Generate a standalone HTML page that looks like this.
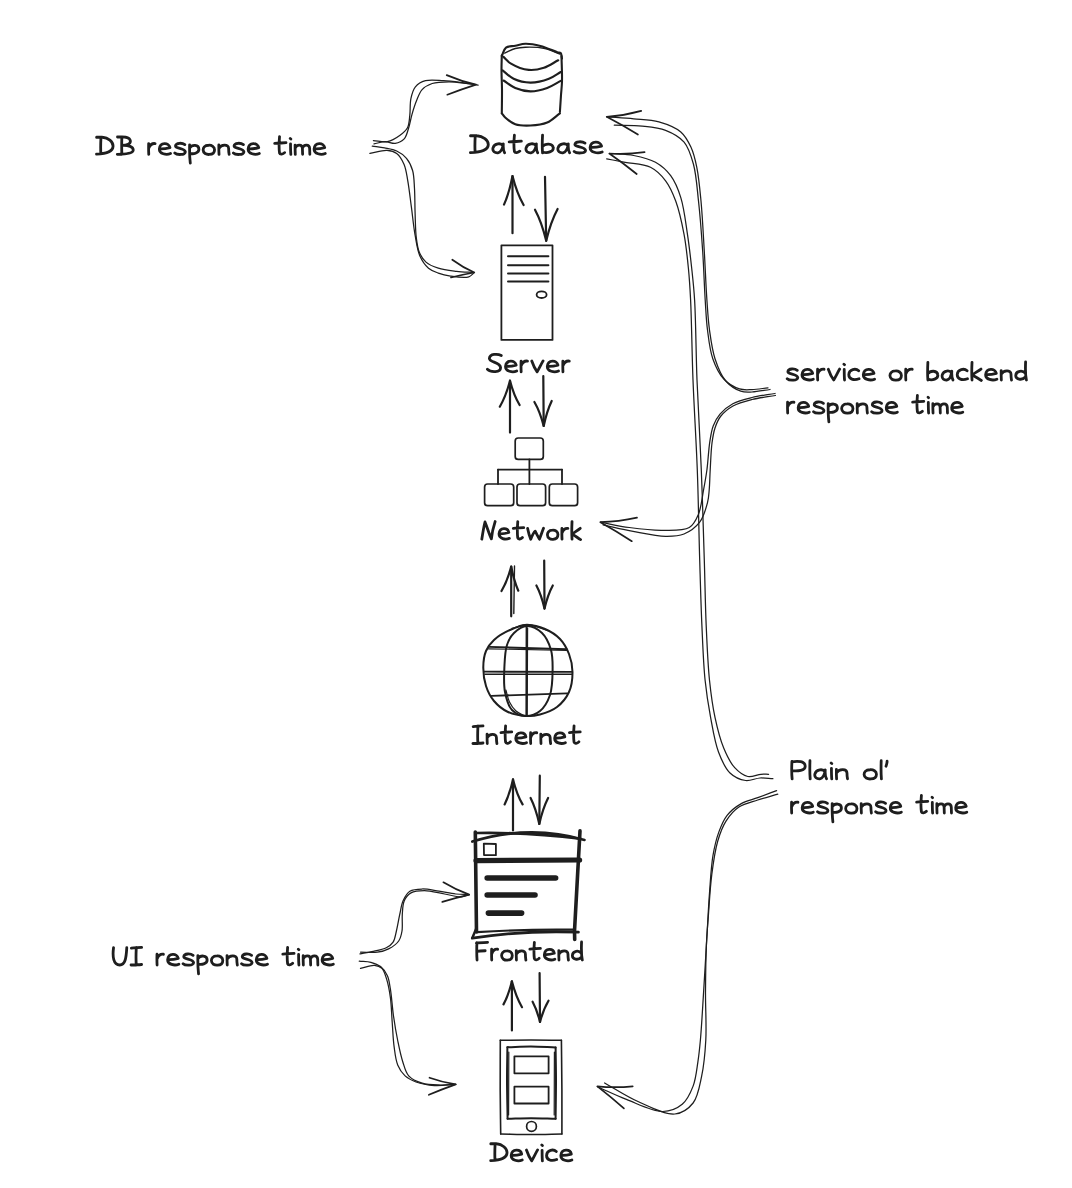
<!DOCTYPE html>
<html><head><meta charset="utf-8"><style>
html,body{margin:0;padding:0;background:#fff;width:1072px;height:1188px;overflow:hidden}
svg{display:block}
body{font-family:"Liberation Sans",sans-serif;color:#1e1e1e}
</style></head><body>
<svg width="1072" height="1188" viewBox="0 0 1072 1188">
<rect width="1072" height="1188" fill="#fff"/>
<g fill="none" stroke="#1e1e1e" stroke-linecap="round" stroke-linejoin="round">
<path d="M512.5 233.2 L512.5 176.0" stroke-width="2.20" />
<path d="M504.0 204.6 Q509.1 193.2 512.5 176.0 Q516.9 193.4 523.6 205.0" stroke-width="2.20" />
<path d="M545.0 176.8 L546.2 240.8" stroke-width="2.20" />
<path d="M535.0 209.7 Q541.7 222.1 546.2 240.8 Q550.8 221.7 557.6 209.0" stroke-width="2.20" />
<path d="M510.0 432.6 L510.0 380.7" stroke-width="2.20" />
<path d="M499.8 406.7 Q505.9 396.3 510.0 380.7 Q513.8 395.3 519.6 405.0" stroke-width="2.20" />
<path d="M543.3 376.0 L543.7 426.0" stroke-width="2.20" />
<path d="M534.4 402.0 Q540.0 411.6 543.7 426.0 Q546.9 411.0 551.7 401.0" stroke-width="2.20" />
<path d="M511.2 616.3 L511.2 566.5" stroke-width="2.20" />
<path d="M501.5 591.0 Q507.3 581.2 511.2 566.5 Q514.0 581.0 518.3 590.7" stroke-width="2.20" />
<path d="M544.2 560.5 L544.5 608.6" stroke-width="2.20" />
<path d="M536.4 585.5 Q541.3 594.7 544.5 608.6 Q547.8 594.7 552.8 585.5" stroke-width="2.20" />
<path d="M513.8 613.5 L514.5 566" stroke-width="1.40" />
<path d="M513.0 830.4 L513.0 779.4" stroke-width="2.20" />
<path d="M504.6 804.4 Q509.6 794.4 513.0 779.4 Q516.8 794.4 522.6 804.4" stroke-width="2.20" />
<path d="M539.8 775.7 L539.3 823.9" stroke-width="2.20" />
<path d="M530.6 798.0 Q535.8 808.4 539.3 823.9 Q542.8 808.4 548.1 798.0" stroke-width="2.20" />
<path d="M511.9 1030.4 L511.9 981.3" stroke-width="2.20" />
<path d="M503.5 1004.4 Q508.5 995.2 511.9 981.3 Q515.9 996.8 522.0 1007.2" stroke-width="2.20" />
<path d="M539.6 973.0 L540.0 1022.0" stroke-width="2.20" />
<path d="M532.6 1001.7 Q537.0 1009.8 540.0 1022.0 Q543.4 1009.2 548.5 1000.7" stroke-width="2.20" />
<path d="M501.80 56.00 C503.20 53.20 503.76 49.30 506.00 47.60 C508.25 45.89 512.14 46.42 515.30 45.80 C518.60 45.15 521.69 43.89 525.40 43.80 C529.92 43.69 535.40 44.70 540.50 46.00 C546.02 47.41 553.81 51.10 557.30 52.20 C558.85 52.69 559.92 52.29 560.70 53.10 C561.69 54.12 561.57 56.77 562.00 58.60" stroke-width="2.10"/>
<path d="M504.70 53.10 C508.23 51.57 511.74 49.48 515.30 48.50 C518.64 47.58 521.47 47.32 525.40 47.20 C530.85 47.03 538.99 47.23 545.00 48.50 C550.42 49.65 555.00 52.17 560.00 54.00" stroke-width="1.40"/>
<path d="M503.50 56.90 C506.00 59.13 507.73 61.66 511.00 63.60 C515.47 66.25 522.95 69.31 528.70 69.90 C533.89 70.43 539.04 69.36 543.90 67.80 C548.88 66.20 553.43 62.80 558.20 60.30" stroke-width="2.10"/>
<path d="M502.60 70.40 C506.27 73.20 509.29 76.79 513.60 78.80 C518.40 81.05 524.66 82.54 530.40 82.60 C536.41 82.66 543.56 80.83 548.90 78.80 C553.43 77.08 556.77 74.27 560.70 72.00" stroke-width="2.10"/>
<path d="M503.50 80.50 C507.43 83.00 510.95 86.19 515.30 88.00 C519.87 89.90 525.23 91.34 530.40 91.40 C535.84 91.46 542.03 89.84 547.20 88.00 C552.08 86.26 556.20 83.27 560.70 80.90" stroke-width="2.10"/>
<path d="M501.80 55.20 C501.70 60.13 501.49 64.70 501.50 70.00 C501.51 76.17 501.94 83.08 502.00 90.00 C502.06 97.47 501.87 105.53 501.80 113.30" stroke-width="2.10"/>
<path d="M561.50 56.00 C561.67 64.43 562.19 74.15 562.00 81.30 C561.86 86.57 561.33 90.19 561.00 95.00 C560.63 100.36 560.27 106.33 559.90 112.00" stroke-width="2.10"/>
<path d="M501.80 113.30 C502.93 114.70 503.62 116.06 505.20 117.50 C507.57 119.65 511.40 122.84 515.30 124.20 C519.66 125.72 525.25 125.73 530.40 125.50 C535.87 125.25 542.20 124.62 547.20 122.50 C551.99 120.47 555.67 116.37 559.90 113.30" stroke-width="2.10"/>
<rect x="501.4" y="245.3" width="51.1" height="94.6" rx="0.0" stroke-width="1.80"/>
<path d="M508.0 256.3 L548.4 256.3" stroke-width="2.00" />
<path d="M508.0 265.2 L548.4 265.2" stroke-width="2.00" />
<path d="M508.0 273.6 L548.4 273.6" stroke-width="2.00" />
<path d="M508.0 281.5 L548.4 281.5" stroke-width="2.00" />
<ellipse cx="541.6" cy="294.7" rx="5" ry="3.3" stroke-width="1.8"/>
<rect x="515.2" y="438.0" width="28.1" height="21.4" rx="3.0" stroke-width="1.70"/>
<path d="M529.4 459.4 L529.4 484.0" stroke-width="1.80" />
<path d="M498.0 469.6 L562.0 469.6" stroke-width="1.80" />
<path d="M498.0 469.6 L498.0 484.0" stroke-width="1.80" />
<path d="M562.0 469.6 L562.0 484.0" stroke-width="1.80" />
<rect x="484.6" y="484.0" width="29.1" height="21.7" rx="3.0" stroke-width="1.70"/>
<rect x="517.0" y="484.0" width="28.6" height="21.7" rx="3.0" stroke-width="1.70"/>
<rect x="549.3" y="484.0" width="28.3" height="21.7" rx="3.0" stroke-width="1.70"/>
<path d="M527.00 625.00 C532.89 624.80 539.47 626.64 545.00 629.00 C550.46 631.33 555.98 634.79 560.00 639.00 C563.96 643.15 566.92 648.57 569.00 654.00 C571.13 659.55 572.44 665.84 572.50 672.00 C572.56 678.49 571.66 686.11 569.00 692.00 C566.41 697.73 561.89 703.24 557.00 707.00 C552.19 710.70 545.50 713.03 540.00 714.50 C535.21 715.78 530.94 716.28 526.00 716.00 C520.35 715.68 513.37 714.54 508.00 712.00 C502.72 709.50 497.69 705.40 494.00 701.00 C490.40 696.70 487.78 691.47 486.00 686.00 C484.10 680.19 483.22 673.06 483.30 667.00 C483.37 661.43 484.05 655.64 486.00 651.00 C487.79 646.75 490.48 643.28 494.00 640.00 C498.15 636.13 504.41 632.51 510.00 630.00 C515.42 627.56 521.23 625.19 527.00 625.00" stroke-width="2.00"/>
<path d="M512.00 628.50 C517.00 627.17 521.59 624.45 527.00 624.50 C533.42 624.56 541.00 628.50 548.00 630.50" stroke-width="1.30"/>
<path d="M527.00 626.00 C531.79 625.86 538.07 629.26 542.00 633.00 C546.24 637.03 549.23 643.91 551.00 650.00 C552.81 656.22 552.68 662.97 552.60 670.00 C552.51 677.87 552.46 687.83 550.00 695.00 C547.87 701.21 544.35 707.50 540.00 711.00 C536.14 714.11 530.64 716.14 526.00 716.00 C521.30 715.85 515.45 713.57 512.00 710.00 C508.12 705.99 506.32 698.62 505.00 692.00 C503.49 684.47 504.02 675.05 504.40 667.00 C504.76 659.42 504.97 651.06 507.00 645.00 C508.61 640.20 510.75 636.14 514.00 633.00 C517.35 629.76 522.48 626.13 527.00 626.00" stroke-width="2.00"/>
<path d="M505.90 690.00 C507.10 694.00 507.73 698.42 509.50 702.00 C511.16 705.37 513.35 708.65 516.00 711.00 C518.55 713.27 522.00 714.33 525.00 716.00" stroke-width="1.20"/>
<path d="M526.6 627.0 L526.4 716.0" stroke-width="2.00" />
<path d="M527.6 628.0 L527.2 715.0" stroke-width="1.20" />
<path d="M489.7 646.9 L566.6 649.3" stroke-width="1.90" />
<path d="M488.5 648.8 L567.0 650.5" stroke-width="1.20" />
<path d="M484.3 671.6 L572.0 671.9" stroke-width="1.90" />
<path d="M485.0 674.2 L572.0 674.3" stroke-width="1.60" />
<path d="M491.7 695.9 L567.1 693.4" stroke-width="1.90" />
<path d="M475.3 832 L476.5 932" stroke-width="3.60" />
<path d="M476.5 928 L472.5 937.5" stroke-width="2.50" />
<path d="M580 830.9 L574.5 931 L574.7 939.5" stroke-width="3.60" />
<path d="M476 833 Q528 832 580.5 838.8" stroke-width="2.60" />
<path d="M472.3 841.6 Q530 824 584.5 840" stroke-width="2.60" />
<path d="M472.3 938.2 Q526 930 578.4 932.2" stroke-width="2.80" />
<path d="M477 932.2 Q526 929 574 929.7" stroke-width="2.20" />
<path d="M476 860.6 L579.6 860" stroke-width="5.20" />
<path d="M483.8 843.6 L495.9 844 L495.9 855.2 L484 855 Z" stroke-width="1.80" />
<path d="M487.2 878 L555.6 878 M487.2 895 L535 895 M488.4 913.1 L521.6 913.1" stroke-width="5.6" stroke-linecap="round"/>
<path d="M500.30 1040.30 C510.53 1040.20 520.79 1040.00 531.00 1040.00 C541.16 1040.00 551.27 1040.20 561.40 1040.30" stroke-width="1.60"/>
<path d="M561.40 1040.30 C561.57 1056.87 561.82 1073.94 561.90 1090.00 C561.98 1105.11 561.90 1119.33 561.90 1134.00" stroke-width="1.60"/>
<path d="M561.90 1134.00 C551.60 1134.17 541.25 1134.50 531.00 1134.50 C520.85 1134.50 510.80 1134.17 500.70 1134.00" stroke-width="1.60"/>
<path d="M500.70 1134.00 C500.53 1119.33 500.27 1105.11 500.20 1090.00 C500.12 1073.94 500.27 1056.87 500.30 1040.30" stroke-width="1.60"/>
<path d="M507.40 1047.20 C515.27 1046.97 523.05 1046.46 531.00 1046.50 C539.12 1046.54 547.40 1047.17 555.60 1047.50" stroke-width="2.00"/>
<path d="M555.60 1047.50 C555.73 1058.33 555.99 1068.69 556.00 1080.00 C556.01 1092.36 555.73 1105.87 555.60 1118.80" stroke-width="2.00"/>
<path d="M555.60 1118.80 C547.40 1118.60 539.10 1118.19 531.00 1118.20 C523.10 1118.20 515.40 1118.60 507.60 1118.80" stroke-width="2.00"/>
<path d="M507.60 1118.80 C507.40 1105.87 507.02 1092.39 507.00 1080.00 C506.98 1068.61 507.27 1058.13 507.40 1047.20" stroke-width="2.00"/>
<path d="M508.8 1052.0 L508.6 1115.0" stroke-width="1.20" />
<path d="M554.4 1052.0 L554.2 1115.0" stroke-width="1.20" />
<rect x="514.4" y="1056.3" width="34.2" height="17.0" rx="0.0" stroke-width="1.80"/>
<rect x="514.4" y="1086.7" width="34.2" height="16.8" rx="0.0" stroke-width="1.80"/>
<circle cx="531.5" cy="1126.4" r="4.9" stroke-width="1.7"/>
<path d="M373.40 140.60 C378.07 140.97 383.00 142.57 387.40 141.70 C391.76 140.84 396.23 138.01 399.70 135.50 C402.80 133.25 405.81 130.91 407.50 127.70 C409.30 124.29 409.24 119.84 409.80 115.40 C410.45 110.25 409.80 103.63 410.90 98.60 C411.85 94.24 412.89 89.80 415.40 86.80 C417.82 83.90 421.47 81.82 425.50 80.70 C430.46 79.32 437.54 80.40 443.40 80.70 C449.10 80.99 454.52 81.67 460.20 82.40 C466.08 83.16 472.13 84.27 478.10 85.20" stroke-width="1.25"/>
<path d="M374.00 143.90 C377.73 143.17 381.57 141.75 385.20 141.70 C388.62 141.66 392.03 143.87 395.20 143.40 C398.36 142.93 401.98 141.31 404.20 138.90 C406.63 136.26 407.43 131.65 408.70 127.70 C410.06 123.48 410.71 118.75 412.00 114.30 C413.31 109.78 414.75 105.03 416.50 100.80 C418.14 96.83 419.42 92.50 422.10 89.60 C424.70 86.78 428.23 84.82 432.20 83.50 C436.94 81.92 443.00 81.81 449.00 81.80 C455.91 81.79 463.87 83.27 471.30 84.00" stroke-width="1.25"/>
<path d="M446.7 75.1 Q461.1 81.3 476.0 84.6 Q461.6 89.2 447.3 94.7" stroke-width="1.70" />
<path d="M372.30 146.10 C376.37 146.70 380.45 147.09 384.50 147.90 C388.59 148.72 393.01 149.24 396.70 151.00 C400.33 152.73 403.89 155.18 406.50 158.30 C409.26 161.60 411.26 165.88 412.60 170.50 C414.16 175.86 414.08 182.25 414.50 188.80 C414.98 196.36 414.80 205.14 415.10 213.30 C415.40 221.44 415.41 230.64 416.30 237.70 C417.00 243.22 417.51 248.07 419.30 252.30 C420.90 256.07 423.01 259.50 426.00 262.10 C429.22 264.90 433.67 266.70 438.30 268.20 C443.68 269.95 450.53 270.58 456.60 271.30 C462.53 272.00 468.40 272.10 474.30 272.50" stroke-width="1.25"/>
<path d="M369.90 153.40 C375.60 152.40 382.13 150.09 387.00 150.40 C390.72 150.64 393.97 151.37 396.70 153.40 C399.82 155.72 402.29 160.21 404.10 164.40 C406.11 169.05 406.61 174.28 407.70 180.30 C409.11 188.07 410.18 198.14 411.40 207.20 C412.65 216.44 413.54 226.59 415.10 235.20 C416.45 242.68 417.30 250.19 419.90 256.00 C422.07 260.85 425.12 265.30 428.50 268.20 C431.39 270.69 434.78 271.80 438.30 273.10 C442.07 274.49 445.99 275.47 450.50 276.10 C455.95 276.87 464.64 278.15 468.80 276.80 C471.37 275.97 472.47 273.93 474.30 272.50" stroke-width="1.25"/>
<path d="M452.3 259.7 Q462.8 267.4 474.3 272.5 Q462.6 274.5 451.0 277.5" stroke-width="1.70" />
<path d="M360.00 953.90 C363.93 953.17 367.68 952.64 371.80 951.70 C376.40 950.65 382.53 949.74 386.30 947.80 C389.19 946.31 391.44 944.71 393.10 942.20 C395.01 939.31 395.37 935.14 396.40 931.00 C397.64 925.99 398.62 919.48 399.80 914.20 C400.86 909.44 401.28 904.65 403.10 900.70 C404.76 897.07 406.80 893.16 409.90 891.20 C413.11 889.17 417.77 889.10 422.20 889.00 C427.36 888.88 433.41 890.37 439.00 891.20 C444.61 892.03 450.50 893.44 455.80 894.00 C460.50 894.50 464.73 894.40 469.20 894.60" stroke-width="1.25"/>
<path d="M360.60 952.20 C366.20 952.20 372.41 952.92 377.40 952.20 C381.56 951.60 385.12 950.69 388.60 948.90 C392.25 947.02 396.46 944.18 398.70 941.00 C400.73 938.12 401.35 934.82 402.00 931.00 C402.82 926.18 401.86 919.48 402.30 914.20 C402.69 909.44 402.61 904.39 404.30 900.70 C405.76 897.49 408.00 894.59 411.00 892.90 C414.45 890.96 419.48 890.70 424.40 890.70 C430.44 890.70 438.19 892.94 444.60 894.00 C450.43 894.97 456.78 897.04 461.30 896.80 C464.44 896.63 466.57 895.33 469.20 894.60" stroke-width="1.25"/>
<path d="M443.4 882.3 Q455.9 889.9 469.2 894.6 Q455.7 897.8 442.3 901.9" stroke-width="1.70" />
<path d="M359.30 961.10 C363.17 961.50 367.28 961.34 370.90 962.30 C374.36 963.22 377.88 964.42 380.60 966.60 C383.42 968.86 385.78 972.25 387.40 975.80 C389.18 979.69 389.51 983.94 390.40 989.20 C391.65 996.57 392.25 1007.28 393.50 1016.00 C394.70 1024.37 396.11 1032.70 397.70 1040.50 C399.17 1047.71 400.58 1054.96 402.60 1061.20 C404.35 1066.60 405.38 1072.22 408.70 1075.90 C411.96 1079.51 417.19 1081.67 422.20 1083.20 C427.69 1084.88 434.68 1084.83 440.50 1085.00 C445.80 1085.16 450.63 1084.60 455.70 1084.40" stroke-width="1.25"/>
<path d="M360.50 968.40 C365.17 967.40 370.61 965.06 374.50 965.40 C377.40 965.65 379.96 966.51 381.90 968.40 C384.28 970.72 385.37 975.19 386.70 979.40 C388.36 984.65 389.50 991.13 390.40 997.70 C391.44 1005.24 391.58 1014.04 392.20 1022.20 C392.82 1030.34 393.07 1039.08 394.10 1046.60 C395.00 1053.17 395.56 1059.75 397.70 1064.90 C399.50 1069.24 401.99 1073.03 405.10 1075.90 C408.12 1078.68 411.75 1080.44 416.00 1082.00 C421.21 1083.91 428.01 1085.16 434.40 1085.60 C441.21 1086.07 448.60 1084.80 455.70 1084.40" stroke-width="1.25"/>
<path d="M429.5 1077.7 Q442.5 1082.3 455.7 1084.4 Q442.2 1089.2 428.9 1094.8" stroke-width="1.70" />
<path d="M606.70 116.80 C615.70 117.47 624.87 117.93 633.70 118.80 C642.26 119.64 650.96 119.64 658.90 121.90 C666.64 124.10 675.33 127.33 680.80 132.00 C685.55 136.05 688.27 141.48 690.90 147.10 C693.73 153.15 695.21 159.64 696.80 167.30 C698.81 177.03 699.82 188.62 701.00 201.00 C702.43 216.12 703.31 234.83 704.30 251.50 C705.27 267.83 705.90 285.77 706.90 300.00 C707.69 311.20 708.13 320.15 709.50 330.00 C710.85 339.71 712.13 349.96 715.00 358.70 C717.61 366.65 720.68 374.94 725.40 380.50 C729.56 385.40 735.84 389.45 740.80 391.20 C744.64 392.55 747.83 392.14 752.00 392.00 C757.30 391.82 764.00 390.33 770.00 389.50" stroke-width="1.25"/>
<path d="M614.30 125.20 C623.57 125.50 633.25 125.17 642.10 126.10 C650.29 126.96 658.48 127.52 665.60 130.30 C672.42 132.97 679.50 136.66 684.10 142.10 C688.89 147.77 691.07 155.57 693.40 164.00 C696.31 174.56 697.03 187.69 698.50 201.00 C700.21 216.51 701.58 234.83 702.70 251.50 C703.80 267.82 704.29 285.77 705.20 300.00 C705.92 311.20 706.22 320.14 707.50 330.00 C708.76 339.71 709.79 350.17 712.80 358.70 C715.48 366.29 718.99 373.86 723.80 379.00 C728.11 383.61 734.35 387.26 739.50 388.90 C743.73 390.25 747.58 389.72 752.00 389.60 C757.01 389.46 762.67 388.40 768.00 387.80" stroke-width="1.25"/>
<path d="M641.2 110.9 Q623.9 115.7 606.7 116.8 Q622.5 125.1 637.9 134.5" stroke-width="1.70" />
<path d="M775.10 393.50 C767.40 394.83 759.28 395.69 752.00 397.50 C745.24 399.18 738.32 400.79 732.80 403.80 C727.81 406.52 723.34 410.29 720.00 414.20 C716.97 417.74 714.88 421.55 713.20 425.90 C711.36 430.69 710.76 435.79 709.80 441.90 C708.54 449.93 708.05 461.49 706.90 470.00 C705.93 477.14 704.90 482.70 703.60 489.60 C702.13 497.39 701.30 507.67 698.40 514.40 C696.10 519.74 694.03 524.71 689.30 527.50 C683.07 531.17 671.36 530.22 661.80 530.30 C651.40 530.38 639.70 528.91 629.20 527.50 C619.27 526.16 610.00 523.97 600.40 522.20" stroke-width="1.25"/>
<path d="M775.50 395.50 C767.67 396.83 759.35 397.63 752.00 399.50 C745.26 401.22 738.43 402.93 733.00 406.00 C728.10 408.77 723.56 412.56 720.50 416.50 C717.80 419.99 716.39 423.82 715.00 428.00 C713.47 432.58 712.76 437.24 712.00 443.00 C710.98 450.66 710.69 461.67 710.20 470.00 C709.78 477.16 709.74 484.10 709.20 490.00 C708.77 494.72 708.71 498.10 707.50 502.70 C705.95 508.59 703.73 516.94 699.70 522.20 C695.80 527.29 689.77 531.66 684.00 534.00 C678.41 536.27 672.67 536.38 665.70 536.30 C656.38 536.19 643.71 533.34 633.10 531.40 C622.86 529.52 613.10 527.07 603.10 524.90" stroke-width="1.25"/>
<path d="M637.0 517.7 Q618.6 521.8 600.4 522.2 Q616.3 531.1 631.8 541.2" stroke-width="1.70" />
<path d="M610.10 153.50 C617.97 154.17 626.07 154.00 633.70 155.50 C641.19 156.97 649.21 158.76 655.50 162.30 C661.43 165.64 666.58 170.17 670.70 175.70 C675.19 181.73 678.14 189.15 680.80 197.60 C684.13 208.15 685.66 222.53 687.50 234.60 C689.25 246.07 690.50 257.23 691.70 268.30 C692.86 279.02 693.81 287.02 694.60 300.00 C695.85 320.59 695.93 352.55 697.00 380.00 C698.13 409.12 700.08 440.00 701.30 470.00 C702.52 500.00 703.44 532.37 704.30 560.00 C705.03 583.59 705.27 604.73 706.20 625.60 C707.05 644.67 707.79 663.86 709.50 680.30 C710.92 693.90 712.48 705.70 715.00 717.40 C717.32 728.20 720.00 739.20 723.70 748.10 C726.80 755.57 730.19 762.82 734.70 767.70 C738.48 771.79 743.23 775.51 747.80 776.50 C751.99 777.41 757.10 774.62 760.90 774.30 C763.79 774.06 766.03 774.30 768.60 774.30" stroke-width="1.25"/>
<path d="M606.70 158.90 C612.87 160.03 618.56 161.03 625.20 162.30 C632.98 163.78 643.53 163.82 650.50 167.30 C656.68 170.38 661.46 175.39 665.60 180.80 C669.97 186.52 672.83 193.23 675.70 201.00 C679.26 210.62 681.98 223.33 684.10 234.60 C686.20 245.76 687.31 257.22 688.40 268.30 C689.45 279.01 689.96 287.02 690.60 300.00 C691.62 320.60 691.93 352.55 693.00 380.00 C694.13 409.12 696.18 439.99 697.30 470.00 C698.42 499.99 698.87 532.37 699.70 560.00 C700.41 583.59 700.94 604.73 701.90 625.60 C702.78 644.67 703.40 663.86 705.10 680.30 C706.50 693.90 708.32 705.29 710.60 717.40 C712.81 729.18 714.75 742.12 718.50 752.00 C721.58 760.12 724.93 768.19 730.00 773.00 C734.31 777.09 740.39 779.78 745.60 780.50 C750.39 781.17 755.32 778.28 760.00 778.00 C764.40 777.74 768.60 778.47 772.90 778.70" stroke-width="1.25"/>
<path d="M644.6 152.2 Q626.7 154.6 609.3 153.5 Q623.3 163.2 636.7 174.0" stroke-width="1.70" />
<path d="M776.60 790.60 C770.33 792.97 763.87 795.47 757.80 797.70 C752.13 799.78 746.36 800.71 741.30 803.60 C736.10 806.56 730.83 810.68 727.10 815.40 C723.37 820.12 721.16 825.78 718.90 831.90 C716.31 838.92 714.51 846.58 713.00 855.40 C711.12 866.43 710.47 880.33 709.50 893.10 C708.50 906.25 707.97 918.55 707.10 933.20 C706.04 950.95 704.78 973.48 703.60 992.10 C702.54 1008.89 701.57 1027.15 700.40 1040.00 C699.61 1048.69 699.06 1054.36 697.90 1061.80 C696.67 1069.70 695.91 1078.80 693.10 1086.10 C690.50 1092.85 687.30 1100.06 682.20 1104.30 C677.16 1108.48 670.30 1111.37 662.80 1111.50 C652.59 1111.68 637.76 1103.76 626.40 1099.40 C616.06 1095.44 607.00 1090.93 597.30 1086.70" stroke-width="1.25"/>
<path d="M777.80 794.10 C771.13 796.07 764.33 797.81 757.80 800.00 C751.37 802.15 744.25 803.48 738.90 807.10 C733.70 810.62 729.47 815.74 726.00 821.20 C722.29 827.03 719.94 833.64 717.70 841.30 C714.92 850.81 713.33 862.57 711.80 874.30 C710.08 887.51 709.25 903.99 708.30 916.70 C707.52 927.08 706.86 934.37 706.40 945.00 C705.81 958.71 705.60 976.33 705.50 992.10 C705.40 1008.00 706.61 1025.15 705.80 1040.00 C705.09 1052.99 703.99 1065.32 701.60 1076.40 C699.52 1086.07 698.13 1096.62 693.10 1103.00 C688.71 1108.56 682.23 1113.19 674.90 1114.00 C665.05 1115.09 650.19 1106.95 638.50 1101.80 C626.75 1096.63 615.90 1089.27 604.60 1083.00" stroke-width="1.25"/>
<path d="M632.7 1086.3 Q614.7 1088.1 597.4 1086.3 Q610.9 1096.8 623.9 1108.4" stroke-width="1.70" />
</g>
<g fill="none" stroke="#1e1e1e" stroke-linecap="round" stroke-linejoin="round">
<path transform="translate(470.40 152.80) scale(1.0697 0.8400)" d="M 0.10 -20.30 C 2.50 -20.60 4.50 -20.60 6.00 -20.30 C 11.50 -19.80 17.00 -15.00 16.70 -9.50 C 16.50 -4.00 10.50 -0.80 0.00 -0.20 M 4.50 -20.00 C 4.20 -13.00 4.10 -6.00 4.40 -0.60 M 30.34 -8.50 C 28.94 -11.80 22.44 -11.80 21.14 -6.00 C 20.34 -1.50 22.94 0.30 25.74 0.00 C 28.74 -0.40 29.94 -3.50 30.74 -10.60 M 30.74 -10.20 C 30.54 -6.00 30.74 -2.50 31.94 0.00 M 36.24 -13.00 C 39.64 -13.30 43.64 -13.50 47.64 -13.80 M 41.14 -21.00 C 40.64 -14.00 40.44 -7.00 41.14 -1.50 C 41.64 0.50 44.64 0.00 46.24 -2.00 M 61.28 -8.50 C 59.88 -11.80 53.38 -11.80 52.08 -6.00 C 51.28 -1.50 53.88 0.30 56.68 0.00 C 59.68 -0.40 60.88 -3.50 61.68 -10.60 M 61.68 -10.20 C 61.48 -6.00 61.68 -2.50 62.88 0.00 M 67.45 -21.00 C 67.15 -14.00 67.05 -6.00 67.45 0.00 M 67.45 -7.50 C 69.85 -11.50 77.05 -11.80 77.45 -6.00 C 77.85 -1.50 71.85 1.00 67.65 -1.00 M 91.10 -8.50 C 89.70 -11.80 83.20 -11.80 81.90 -6.00 C 81.10 -1.50 83.70 0.30 86.50 0.00 C 89.50 -0.40 90.70 -3.50 91.50 -10.60 M 91.50 -10.20 C 91.30 -6.00 91.50 -2.50 92.70 0.00 M 107.10 -11.50 C 104.60 -13.80 98.10 -14.00 97.70 -10.00 C 97.30 -6.50 107.10 -7.50 107.60 -3.00 C 108.10 1.00 99.10 1.00 97.00 -1.50 M 112.31 -6.50 C 115.51 -6.30 119.51 -7.00 122.61 -8.00 C 121.61 -14.20 112.61 -14.60 111.91 -6.50 C 111.61 -0.50 119.01 1.20 123.21 -1.00" stroke-width="2.80" vector-effect="non-scaling-stroke"/>
<path transform="translate(487.40 371.80) scale(0.9912 0.8400)" d="M 14.00 -19.40 C 10.40 -21.60 2.40 -21.60 2.00 -16.00 C 1.60 -11.00 13.00 -12.00 13.30 -5.00 C 13.50 1.00 3.40 1.00 0.00 -3.00 M 18.70 -6.50 C 21.90 -6.30 25.90 -7.00 29.00 -8.00 C 28.00 -14.20 19.00 -14.60 18.30 -6.50 C 18.00 -0.50 25.40 1.20 29.60 -1.00 M 33.97 -12.80 C 33.87 -8.00 33.87 -4.00 34.07 0.00 M 34.17 -7.50 C 35.47 -11.50 37.47 -13.20 40.47 -12.80 M 44.77 -12.80 C 46.17 -8.00 48.17 -3.00 50.17 0.00 C 52.17 -4.00 54.17 -9.00 56.17 -13.00 M 60.87 -6.50 C 64.07 -6.30 68.07 -7.00 71.17 -8.00 C 70.17 -14.20 61.17 -14.60 60.47 -6.50 C 60.17 -0.50 67.57 1.20 71.77 -1.00 M 76.13 -12.80 C 76.03 -8.00 76.03 -4.00 76.23 0.00 M 76.33 -7.50 C 77.63 -11.50 79.63 -13.20 82.63 -12.80" stroke-width="2.80" vector-effect="non-scaling-stroke"/>
<path transform="translate(481.80 539.20) scale(0.9129 0.8400)" d="M 0.00 0.00 C 1.00 -7.00 2.00 -14.00 3.50 -20.50 C 6.00 -14.00 8.00 -6.00 10.50 -0.50 C 11.00 -7.00 12.50 -14.00 14.60 -21.00 M 19.30 -6.50 C 22.50 -6.30 26.50 -7.00 29.60 -8.00 C 28.60 -14.20 19.60 -14.60 18.90 -6.50 C 18.60 -0.50 26.00 1.20 30.20 -1.00 M 34.50 -13.00 C 37.90 -13.30 41.90 -13.50 45.90 -13.80 M 39.40 -21.00 C 38.90 -14.00 38.70 -7.00 39.40 -1.50 C 39.90 0.50 42.90 0.00 44.50 -2.00 M 50.20 -12.80 C 51.10 -8.00 52.10 -4.00 53.60 0.00 C 55.10 -4.00 56.60 -8.00 58.60 -9.50 C 60.10 -6.00 61.60 -3.00 63.10 0.00 C 64.60 -4.00 66.10 -9.00 67.60 -13.00 M 77.51 -10.80 C 73.01 -10.80 71.81 -7.50 71.91 -5.00 C 72.01 -1.20 75.01 0.40 78.01 0.20 C 81.51 0.00 83.41 -2.50 83.41 -5.50 C 83.41 -9.00 80.51 -11.00 77.51 -10.80 Z M 87.77 -12.80 C 87.67 -8.00 87.67 -4.00 87.87 0.00 M 87.97 -7.50 C 89.27 -11.50 91.27 -13.20 94.27 -12.80 M 98.83 -21.00 C 98.53 -14.00 98.43 -6.00 98.83 0.00 M 107.83 -13.00 C 104.23 -10.00 101.23 -8.00 99.03 -6.00 C 102.23 -4.00 105.23 -1.50 108.23 0.50" stroke-width="2.80" vector-effect="non-scaling-stroke"/>
<path transform="translate(472.90 743.50) scale(0.9448 0.8400)" d="M 0.30 -20.20 C 3.70 -20.60 7.70 -20.60 10.70 -20.90 M 5.30 -20.60 C 5.00 -13.00 4.80 -7.00 5.30 0.00 M 0.00 0.00 C 3.70 -0.30 7.70 -0.30 10.70 -0.60 M 15.00 -11.20 C 15.00 -7.00 15.00 -3.50 15.20 0.00 M 15.20 -7.00 C 17.30 -12.00 24.80 -12.50 24.90 -7.00 C 24.90 -4.00 25.10 -2.00 25.40 0.00 M 29.70 -13.00 C 33.10 -13.30 37.10 -13.50 41.10 -13.80 M 34.60 -21.00 C 34.10 -14.00 33.90 -7.00 34.60 -1.50 C 35.10 0.50 38.10 0.00 39.70 -2.00 M 45.80 -6.50 C 49.00 -6.30 53.00 -7.00 56.10 -8.00 C 55.10 -14.20 46.10 -14.60 45.40 -6.50 C 45.10 -0.50 52.50 1.20 56.70 -1.00 M 61.07 -12.80 C 60.97 -8.00 60.97 -4.00 61.17 0.00 M 61.27 -7.50 C 62.57 -11.50 64.57 -13.20 67.57 -12.80 M 71.87 -11.20 C 71.87 -7.00 71.87 -3.50 72.07 0.00 M 72.07 -7.00 C 74.17 -12.00 81.67 -12.50 81.77 -7.00 C 81.77 -4.00 81.97 -2.00 82.27 0.00 M 86.97 -6.50 C 90.17 -6.30 94.17 -7.00 97.27 -8.00 C 96.27 -14.20 87.27 -14.60 86.57 -6.50 C 86.27 -0.50 93.67 1.20 97.87 -1.00 M 102.17 -13.00 C 105.57 -13.30 109.57 -13.50 113.57 -13.80 M 107.07 -21.00 C 106.57 -14.00 106.37 -7.00 107.07 -1.50 C 107.57 0.50 110.57 0.00 112.17 -2.00" stroke-width="2.80" vector-effect="non-scaling-stroke"/>
<path transform="translate(476.40 960.00) scale(0.9251 0.8400)" d="M 0.00 -20.20 C 4.50 -20.60 8.50 -21.00 12.10 -21.00 M 0.50 -20.60 C 0.30 -13.00 0.30 -6.00 0.70 0.00 M 0.50 -10.20 C 3.50 -10.60 6.50 -10.80 9.50 -11.00 M 16.47 -12.80 C 16.37 -8.00 16.37 -4.00 16.57 0.00 M 16.67 -7.50 C 17.97 -11.50 19.97 -13.20 22.97 -12.80 M 32.87 -10.80 C 28.37 -10.80 27.17 -7.50 27.27 -5.00 C 27.37 -1.20 30.37 0.40 33.37 0.20 C 36.87 0.00 38.77 -2.50 38.77 -5.50 C 38.77 -9.00 35.87 -11.00 32.87 -10.80 Z M 43.07 -11.20 C 43.07 -7.00 43.07 -3.50 43.27 0.00 M 43.27 -7.00 C 45.37 -12.00 52.87 -12.50 52.97 -7.00 C 52.97 -4.00 53.17 -2.00 53.47 0.00 M 57.77 -13.00 C 61.17 -13.30 65.17 -13.50 69.17 -13.80 M 62.67 -21.00 C 62.17 -14.00 61.97 -7.00 62.67 -1.50 C 63.17 0.50 66.17 0.00 67.77 -2.00 M 73.87 -6.50 C 77.07 -6.30 81.07 -7.00 84.17 -8.00 C 83.17 -14.20 74.17 -14.60 73.47 -6.50 C 73.17 -0.50 80.57 1.20 84.77 -1.00 M 89.07 -11.20 C 89.07 -7.00 89.07 -3.50 89.27 0.00 M 89.27 -7.00 C 91.37 -12.00 98.87 -12.50 98.97 -7.00 C 98.97 -4.00 99.17 -2.00 99.47 0.00 M 113.37 -8.00 C 110.87 -12.00 104.07 -11.20 103.77 -5.50 C 103.47 -1.00 109.87 1.00 113.47 -3.50 M 113.67 -21.50 C 113.37 -14.00 113.37 -6.00 114.47 0.00" stroke-width="2.80" vector-effect="non-scaling-stroke"/>
<path transform="translate(490.70 1160.80) scale(0.9771 0.8400)" d="M 0.10 -20.30 C 2.50 -20.60 4.50 -20.60 6.00 -20.30 C 11.50 -19.80 17.00 -15.00 16.70 -9.50 C 16.50 -4.00 10.50 -0.80 0.00 -0.20 M 4.50 -20.00 C 4.20 -13.00 4.10 -6.00 4.40 -0.60 M 21.40 -6.50 C 24.60 -6.30 28.60 -7.00 31.70 -8.00 C 30.70 -14.20 21.70 -14.60 21.00 -6.50 C 20.70 -0.50 28.10 1.20 32.30 -1.00 M 36.60 -12.80 C 38.00 -8.00 40.00 -3.00 42.00 0.00 C 44.00 -4.00 46.00 -9.00 48.00 -13.00 M 52.60 -12.50 C 52.60 -8.00 52.60 -4.00 52.90 0.00 M 52.30 -18.80 L 52.90 -18.20 M 67.10 -11.00 C 64.30 -14.20 57.50 -13.20 57.20 -6.50 C 57.00 -1.00 62.30 1.00 67.50 -1.50 M 72.20 -6.50 C 75.40 -6.30 79.40 -7.00 82.50 -8.00 C 81.50 -14.20 72.50 -14.60 71.80 -6.50 C 71.50 -0.50 78.90 1.20 83.10 -1.00" stroke-width="2.80" vector-effect="non-scaling-stroke"/>
<path transform="translate(96.50 154.30) scale(0.9903 0.8400)" d="M 0.10 -20.30 C 2.50 -20.60 4.50 -20.60 6.00 -20.30 C 11.50 -19.80 17.00 -15.00 16.70 -9.50 C 16.50 -4.00 10.50 -0.80 0.00 -0.20 M 4.50 -20.00 C 4.20 -13.00 4.10 -6.00 4.40 -0.60 M 21.20 -20.60 C 26.60 -21.00 33.60 -21.50 34.20 -16.00 C 34.60 -12.00 30.60 -10.60 25.60 -10.60 C 32.60 -11.00 37.10 -9.00 37.10 -5.00 C 37.10 -0.50 28.60 0.00 21.00 0.00 M 25.60 -20.60 C 25.40 -14.00 25.40 -6.00 25.60 0.00 M 52.67 -12.80 C 52.57 -8.00 52.57 -4.00 52.77 0.00 M 52.87 -7.50 C 54.17 -11.50 56.17 -13.20 59.17 -12.80 M 63.87 -6.50 C 67.07 -6.30 71.07 -7.00 74.17 -8.00 C 73.17 -14.20 64.17 -14.60 63.47 -6.50 C 63.17 -0.50 70.57 1.20 74.77 -1.00 M 89.17 -11.50 C 86.67 -13.80 80.17 -14.00 79.77 -10.00 C 79.37 -6.50 89.17 -7.50 89.67 -3.00 C 90.17 1.00 81.17 1.00 79.07 -1.50 M 94.02 -11.20 C 93.92 -5.00 93.92 3.00 94.72 10.50 M 94.02 -7.50 C 96.42 -12.00 103.42 -12.00 103.42 -6.00 C 103.42 -1.50 97.42 0.50 94.22 -1.50 M 113.32 -10.80 C 108.82 -10.80 107.62 -7.50 107.72 -5.00 C 107.82 -1.20 110.82 0.40 113.82 0.20 C 117.32 0.00 119.22 -2.50 119.22 -5.50 C 119.22 -9.00 116.32 -11.00 113.32 -10.80 Z M 123.52 -11.20 C 123.52 -7.00 123.52 -3.50 123.72 0.00 M 123.72 -7.00 C 125.82 -12.00 133.32 -12.50 133.42 -7.00 C 133.42 -4.00 133.62 -2.00 133.92 0.00 M 148.32 -11.50 C 145.82 -13.80 139.32 -14.00 138.92 -10.00 C 138.52 -6.50 148.32 -7.50 148.82 -3.00 C 149.32 1.00 140.32 1.00 138.22 -1.50 M 153.53 -6.50 C 156.73 -6.30 160.73 -7.00 163.83 -8.00 C 162.83 -14.20 153.83 -14.60 153.13 -6.50 C 152.83 -0.50 160.23 1.20 164.43 -1.00 M 179.93 -13.00 C 183.33 -13.30 187.33 -13.50 191.33 -13.80 M 184.83 -21.00 C 184.33 -14.00 184.13 -7.00 184.83 -1.50 C 185.33 0.50 188.33 0.00 189.93 -2.00 M 195.93 -12.50 C 195.93 -8.00 195.93 -4.00 196.23 0.00 M 195.63 -18.80 L 196.23 -18.20 M 200.53 -11.00 C 200.53 -7.00 200.53 -3.50 200.73 0.00 M 200.73 -7.50 C 202.33 -12.00 207.83 -12.00 207.93 -7.00 L 208.13 0.00 M 208.03 -7.50 C 209.33 -12.00 214.93 -12.00 215.23 -7.00 L 215.43 0.00 M 220.13 -6.50 C 223.33 -6.30 227.33 -7.00 230.43 -8.00 C 229.43 -14.20 220.43 -14.60 219.73 -6.50 C 219.43 -0.50 226.83 1.20 231.03 -1.00" stroke-width="2.80" vector-effect="non-scaling-stroke"/>
<path transform="translate(113.10 965.00) scale(0.9885 0.8400)" d="M 0.44 -20.60 C -0.76 -10.00 0.24 0.00 6.74 0.00 C 12.24 0.00 13.24 -8.00 13.84 -20.60 M 18.44 -20.20 C 21.84 -20.60 25.84 -20.60 28.84 -20.90 M 23.44 -20.60 C 23.14 -13.00 22.94 -7.00 23.44 0.00 M 18.14 0.00 C 21.84 -0.30 25.84 -0.30 28.84 -0.60 M 44.40 -12.80 C 44.30 -8.00 44.30 -4.00 44.50 0.00 M 44.60 -7.50 C 45.90 -11.50 47.90 -13.20 50.90 -12.80 M 55.60 -6.50 C 58.80 -6.30 62.80 -7.00 65.90 -8.00 C 64.90 -14.20 55.90 -14.60 55.20 -6.50 C 54.90 -0.50 62.30 1.20 66.50 -1.00 M 80.90 -11.50 C 78.40 -13.80 71.90 -14.00 71.50 -10.00 C 71.10 -6.50 80.90 -7.50 81.40 -3.00 C 81.90 1.00 72.90 1.00 70.80 -1.50 M 85.75 -11.20 C 85.65 -5.00 85.65 3.00 86.45 10.50 M 85.75 -7.50 C 88.15 -12.00 95.15 -12.00 95.15 -6.00 C 95.15 -1.50 89.15 0.50 85.95 -1.50 M 105.06 -10.80 C 100.56 -10.80 99.36 -7.50 99.46 -5.00 C 99.56 -1.20 102.56 0.40 105.56 0.20 C 109.06 0.00 110.96 -2.50 110.96 -5.50 C 110.96 -9.00 108.06 -11.00 105.06 -10.80 Z M 115.26 -11.20 C 115.26 -7.00 115.26 -3.50 115.46 0.00 M 115.46 -7.00 C 117.56 -12.00 125.06 -12.50 125.16 -7.00 C 125.16 -4.00 125.36 -2.00 125.66 0.00 M 140.06 -11.50 C 137.56 -13.80 131.06 -14.00 130.66 -10.00 C 130.26 -6.50 140.06 -7.50 140.56 -3.00 C 141.06 1.00 132.06 1.00 129.96 -1.50 M 145.26 -6.50 C 148.46 -6.30 152.46 -7.00 155.56 -8.00 C 154.56 -14.20 145.56 -14.60 144.86 -6.50 C 144.56 -0.50 151.96 1.20 156.16 -1.00 M 171.66 -13.00 C 175.06 -13.30 179.06 -13.50 183.06 -13.80 M 176.56 -21.00 C 176.06 -14.00 175.86 -7.00 176.56 -1.50 C 177.06 0.50 180.06 0.00 181.66 -2.00 M 187.66 -12.50 C 187.66 -8.00 187.66 -4.00 187.96 0.00 M 187.36 -18.80 L 187.96 -18.20 M 192.26 -11.00 C 192.26 -7.00 192.26 -3.50 192.46 0.00 M 192.46 -7.50 C 194.06 -12.00 199.56 -12.00 199.66 -7.00 L 199.86 0.00 M 199.76 -7.50 C 201.06 -12.00 206.66 -12.00 206.96 -7.00 L 207.16 0.00 M 211.86 -6.50 C 215.06 -6.30 219.06 -7.00 222.16 -8.00 C 221.16 -14.20 212.16 -14.60 211.46 -6.50 C 211.16 -0.50 218.56 1.20 222.76 -1.00" stroke-width="2.80" vector-effect="non-scaling-stroke"/>
<path transform="translate(787.20 380.00) scale(0.9941 0.8400)" d="M 10.10 -11.50 C 7.60 -13.80 1.10 -14.00 0.70 -10.00 C 0.30 -6.50 10.10 -7.50 10.60 -3.00 C 11.10 1.00 2.10 1.00 0.00 -1.50 M 15.31 -6.50 C 18.51 -6.30 22.51 -7.00 25.61 -8.00 C 24.61 -14.20 15.61 -14.60 14.91 -6.50 C 14.61 -0.50 22.01 1.20 26.21 -1.00 M 30.57 -12.80 C 30.47 -8.00 30.47 -4.00 30.67 0.00 M 30.77 -7.50 C 32.07 -11.50 34.07 -13.20 37.07 -12.80 M 41.37 -12.80 C 42.77 -8.00 44.77 -3.00 46.77 0.00 C 48.77 -4.00 50.77 -9.00 52.77 -13.00 M 57.37 -12.50 C 57.37 -8.00 57.37 -4.00 57.67 0.00 M 57.07 -18.80 L 57.67 -18.20 M 71.87 -11.00 C 69.07 -14.20 62.27 -13.20 61.97 -6.50 C 61.77 -1.00 67.07 1.00 72.27 -1.50 M 76.97 -6.50 C 80.17 -6.30 84.17 -7.00 87.27 -8.00 C 86.27 -14.20 77.27 -14.60 76.57 -6.50 C 76.27 -0.50 83.67 1.20 87.87 -1.00 M 108.98 -10.80 C 104.48 -10.80 103.28 -7.50 103.38 -5.00 C 103.48 -1.20 106.48 0.40 109.48 0.20 C 112.98 0.00 114.88 -2.50 114.88 -5.50 C 114.88 -9.00 111.98 -11.00 108.98 -10.80 Z M 119.24 -12.80 C 119.14 -8.00 119.14 -4.00 119.34 0.00 M 119.44 -7.50 C 120.74 -11.50 122.74 -13.20 125.74 -12.80 M 141.51 -21.00 C 141.21 -14.00 141.11 -6.00 141.51 0.00 M 141.51 -7.50 C 143.91 -11.50 151.11 -11.80 151.51 -6.00 C 151.91 -1.50 145.91 1.00 141.71 -1.00 M 165.16 -8.50 C 163.76 -11.80 157.26 -11.80 155.96 -6.00 C 155.16 -1.50 157.76 0.30 160.56 0.00 C 163.56 -0.40 164.76 -3.50 165.56 -10.60 M 165.56 -10.20 C 165.36 -6.00 165.56 -2.50 166.76 0.00 M 180.96 -11.00 C 178.16 -14.20 171.36 -13.20 171.06 -6.50 C 170.86 -1.00 176.16 1.00 181.36 -1.50 M 185.92 -21.00 C 185.62 -14.00 185.52 -6.00 185.92 0.00 M 194.92 -13.00 C 191.32 -10.00 188.32 -8.00 186.12 -6.00 C 189.32 -4.00 192.32 -1.50 195.32 0.50 M 200.02 -6.50 C 203.22 -6.30 207.22 -7.00 210.32 -8.00 C 209.32 -14.20 200.32 -14.60 199.62 -6.50 C 199.32 -0.50 206.72 1.20 210.92 -1.00 M 215.22 -11.20 C 215.22 -7.00 215.22 -3.50 215.42 0.00 M 215.42 -7.00 C 217.52 -12.00 225.02 -12.50 225.12 -7.00 C 225.12 -4.00 225.32 -2.00 225.62 0.00 M 239.52 -8.00 C 237.02 -12.00 230.22 -11.20 229.92 -5.50 C 229.62 -1.00 236.02 1.00 239.62 -3.50 M 239.82 -21.50 C 239.52 -14.00 239.52 -6.00 240.62 0.00" stroke-width="2.80" vector-effect="non-scaling-stroke"/>
<path transform="translate(787.50 413.00) scale(0.9825 0.8400)" d="M 0.07 -12.80 C -0.03 -8.00 -0.03 -4.00 0.17 0.00 M 0.27 -7.50 C 1.57 -11.50 3.57 -13.20 6.57 -12.80 M 11.27 -6.50 C 14.47 -6.30 18.47 -7.00 21.57 -8.00 C 20.57 -14.20 11.57 -14.60 10.87 -6.50 C 10.57 -0.50 17.97 1.20 22.17 -1.00 M 36.57 -11.50 C 34.07 -13.80 27.57 -14.00 27.17 -10.00 C 26.77 -6.50 36.57 -7.50 37.07 -3.00 C 37.57 1.00 28.57 1.00 26.47 -1.50 M 41.42 -11.20 C 41.32 -5.00 41.32 3.00 42.12 10.50 M 41.42 -7.50 C 43.82 -12.00 50.82 -12.00 50.82 -6.00 C 50.82 -1.50 44.82 0.50 41.62 -1.50 M 60.72 -10.80 C 56.22 -10.80 55.02 -7.50 55.12 -5.00 C 55.22 -1.20 58.22 0.40 61.22 0.20 C 64.72 0.00 66.62 -2.50 66.62 -5.50 C 66.62 -9.00 63.72 -11.00 60.72 -10.80 Z M 70.92 -11.20 C 70.92 -7.00 70.92 -3.50 71.12 0.00 M 71.12 -7.00 C 73.22 -12.00 80.72 -12.50 80.82 -7.00 C 80.82 -4.00 81.02 -2.00 81.32 0.00 M 95.72 -11.50 C 93.22 -13.80 86.72 -14.00 86.32 -10.00 C 85.92 -6.50 95.72 -7.50 96.22 -3.00 C 96.72 1.00 87.72 1.00 85.62 -1.50 M 100.93 -6.50 C 104.13 -6.30 108.13 -7.00 111.23 -8.00 C 110.23 -14.20 101.23 -14.60 100.53 -6.50 C 100.23 -0.50 107.63 1.20 111.83 -1.00 M 127.33 -13.00 C 130.73 -13.30 134.73 -13.50 138.73 -13.80 M 132.23 -21.00 C 131.73 -14.00 131.53 -7.00 132.23 -1.50 C 132.73 0.50 135.73 0.00 137.33 -2.00 M 143.33 -12.50 C 143.33 -8.00 143.33 -4.00 143.63 0.00 M 143.03 -18.80 L 143.63 -18.20 M 147.93 -11.00 C 147.93 -7.00 147.93 -3.50 148.13 0.00 M 148.13 -7.50 C 149.73 -12.00 155.23 -12.00 155.33 -7.00 L 155.53 0.00 M 155.43 -7.50 C 156.73 -12.00 162.33 -12.00 162.63 -7.00 L 162.83 0.00 M 167.53 -6.50 C 170.73 -6.30 174.73 -7.00 177.83 -8.00 C 176.83 -14.20 167.83 -14.60 167.13 -6.50 C 166.83 -0.50 174.23 1.20 178.43 -1.00" stroke-width="2.80" vector-effect="non-scaling-stroke"/>
<path transform="translate(791.70 778.80) scale(1.0717 0.8400)" d="M 0.20 -20.60 C -0.10 -13.00 -0.10 -6.00 0.40 0.00 M 0.20 -20.20 C 5.60 -21.60 12.60 -21.00 12.60 -15.00 C 12.60 -9.50 5.60 -9.00 0.40 -9.60 M 17.04 -21.50 C 16.84 -14.00 16.84 -6.00 17.24 0.00 M 30.88 -8.50 C 29.48 -11.80 22.98 -11.80 21.68 -6.00 C 20.88 -1.50 23.48 0.30 26.28 0.00 C 29.28 -0.40 30.48 -3.50 31.28 -10.60 M 31.28 -10.20 C 31.08 -6.00 31.28 -2.50 32.48 0.00 M 37.08 -12.50 C 37.08 -8.00 37.08 -4.00 37.38 0.00 M 36.78 -18.80 L 37.38 -18.20 M 41.68 -11.20 C 41.68 -7.00 41.68 -3.50 41.88 0.00 M 41.88 -7.00 C 43.98 -12.00 51.48 -12.50 51.58 -7.00 C 51.58 -4.00 51.78 -2.00 52.08 0.00 M 73.18 -10.80 C 68.68 -10.80 67.48 -7.50 67.58 -5.00 C 67.68 -1.20 70.68 0.40 73.68 0.20 C 77.18 0.00 79.08 -2.50 79.08 -5.50 C 79.08 -9.00 76.18 -11.00 73.18 -10.80 Z M 83.51 -21.50 C 83.31 -14.00 83.31 -6.00 83.71 0.00 M 89.01 -21.00 C 89.01 -19.00 88.61 -17.00 88.01 -15.00" stroke-width="2.80" vector-effect="non-scaling-stroke"/>
<path transform="translate(791.50 813.00) scale(0.9825 0.8400)" d="M 0.07 -12.80 C -0.03 -8.00 -0.03 -4.00 0.17 0.00 M 0.27 -7.50 C 1.57 -11.50 3.57 -13.20 6.57 -12.80 M 11.27 -6.50 C 14.47 -6.30 18.47 -7.00 21.57 -8.00 C 20.57 -14.20 11.57 -14.60 10.87 -6.50 C 10.57 -0.50 17.97 1.20 22.17 -1.00 M 36.57 -11.50 C 34.07 -13.80 27.57 -14.00 27.17 -10.00 C 26.77 -6.50 36.57 -7.50 37.07 -3.00 C 37.57 1.00 28.57 1.00 26.47 -1.50 M 41.42 -11.20 C 41.32 -5.00 41.32 3.00 42.12 10.50 M 41.42 -7.50 C 43.82 -12.00 50.82 -12.00 50.82 -6.00 C 50.82 -1.50 44.82 0.50 41.62 -1.50 M 60.72 -10.80 C 56.22 -10.80 55.02 -7.50 55.12 -5.00 C 55.22 -1.20 58.22 0.40 61.22 0.20 C 64.72 0.00 66.62 -2.50 66.62 -5.50 C 66.62 -9.00 63.72 -11.00 60.72 -10.80 Z M 70.92 -11.20 C 70.92 -7.00 70.92 -3.50 71.12 0.00 M 71.12 -7.00 C 73.22 -12.00 80.72 -12.50 80.82 -7.00 C 80.82 -4.00 81.02 -2.00 81.32 0.00 M 95.72 -11.50 C 93.22 -13.80 86.72 -14.00 86.32 -10.00 C 85.92 -6.50 95.72 -7.50 96.22 -3.00 C 96.72 1.00 87.72 1.00 85.62 -1.50 M 100.93 -6.50 C 104.13 -6.30 108.13 -7.00 111.23 -8.00 C 110.23 -14.20 101.23 -14.60 100.53 -6.50 C 100.23 -0.50 107.63 1.20 111.83 -1.00 M 127.33 -13.00 C 130.73 -13.30 134.73 -13.50 138.73 -13.80 M 132.23 -21.00 C 131.73 -14.00 131.53 -7.00 132.23 -1.50 C 132.73 0.50 135.73 0.00 137.33 -2.00 M 143.33 -12.50 C 143.33 -8.00 143.33 -4.00 143.63 0.00 M 143.03 -18.80 L 143.63 -18.20 M 147.93 -11.00 C 147.93 -7.00 147.93 -3.50 148.13 0.00 M 148.13 -7.50 C 149.73 -12.00 155.23 -12.00 155.33 -7.00 L 155.53 0.00 M 155.43 -7.50 C 156.73 -12.00 162.33 -12.00 162.63 -7.00 L 162.83 0.00 M 167.53 -6.50 C 170.73 -6.30 174.73 -7.00 177.83 -8.00 C 176.83 -14.20 167.83 -14.60 167.13 -6.50 C 166.83 -0.50 174.23 1.20 178.43 -1.00" stroke-width="2.80" vector-effect="non-scaling-stroke"/>
</g>
</svg>
</body></html>
